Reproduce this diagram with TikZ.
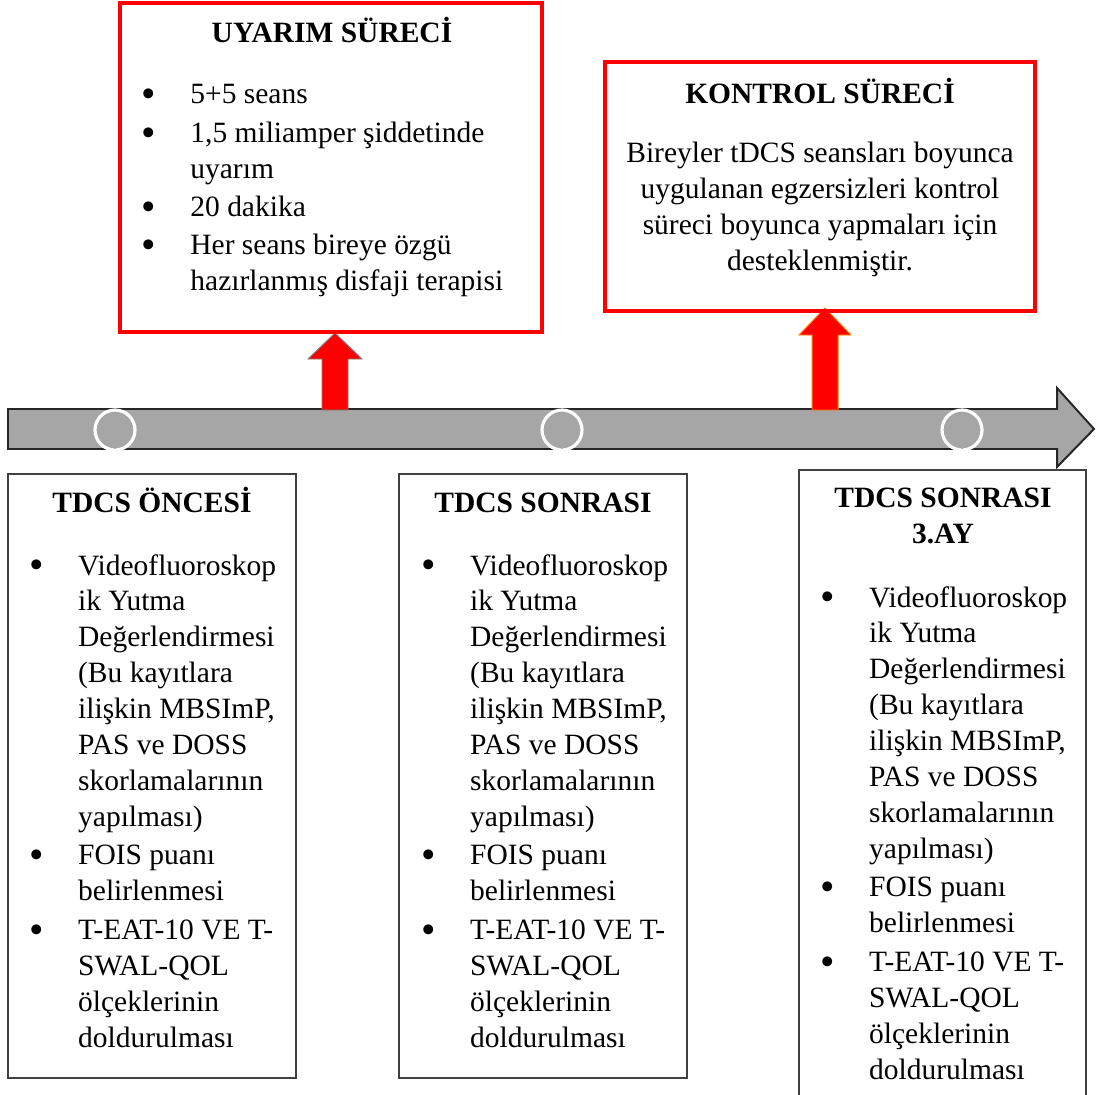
\documentclass[tikz,border=0pt]{standalone}
\usepackage{fontspec}
\setmainfont{Liberation Serif}
\usepackage{array}
\usetikzlibrary{positioning}

\definecolor{barfill}{HTML}{A6A6A6}
\definecolor{boxline}{HTML}{404040}
\newcommand{\blt}{\hspace*{-1pt}\raisebox{-1.5pt}{\scalebox{1.4}{\textbullet}}}

\tikzset{
  redbox/.style={draw=red, line width=2pt},
  greybox/.style={draw=boxline, line width=1pt},
  txt/.style={inner sep=0pt, font=\fontsize{12}{14.6}\selectfont},
  ttl/.style={txt, font=\fontsize{12}{14.3}\selectfont\bfseries, align=center},
  redarrow/.style={fill=red, line width=0.4pt},
  dot/.style={draw=white, line width=1.3pt}
}

\begin{document}
\begin{tikzpicture}[x=0.407pt, y=-0.407pt]
  \useasboundingbox (0,0) rectangle (1098,1094);

  \draw[fill=barfill, draw=black!85, line width=0.8pt]
    (8,409) -- (1057,409) -- (1057,388) -- (1094,429) -- (1057,467)
    -- (1057,449) -- (8,449) -- cycle;
  \foreach \cx/\nm in {115/pre, 562/post, 962/late}
    \draw[dot] (\cx,430) circle (20);

  \draw[redarrow, draw=gray] (322,410) -- (322,359) -- (308,359) -- (335,333)
    -- (362,359) -- (348,359) -- (348,410) -- cycle;
  \draw[redarrow, draw=orange] (812,410) -- (812,335) -- (799,335) -- (825,308)
    -- (851,335) -- (838,335) -- (838,410) -- cycle;

  \draw[redbox] (120,3) rectangle (542,332);
  \draw[redbox] (605,62) rectangle (1035,311);

  \node[ttl, anchor=base] (uyarimttl) at (332,43) {UYARIM SÜRECİ};
  \node[txt, anchor=base west] (uyarimlst) at (143,104) {%
    \begin{tabular}[t]{@{}p{19.1pt}@{}l@{}}
      \blt & 5+5 seans\\[1pt]
      \blt & 1,5 miliamper şiddetinde\\
           & uyarım\\[1pt]
      \blt & 20 dakika\\[1pt]
      \blt & Her seans bireye özgü\\
           & hazırlanmış disfaji terapisi
    \end{tabular}};

  \node[ttl, anchor=base] (kontrolttl) at (820,104) {KONTROL SÜRECİ};
  \node[txt, anchor=base, align=center] (kontroltxt) at (820,270)
    {Bireyler tDCS seansları boyunca\\uygulanan egzersizleri kontrol\\
     süreci boyunca yapmaları için\\desteklenmiştir.};

  \draw[greybox] (8,474) rectangle (296,1078);
  \draw[greybox] (399,474) rectangle (687,1078);
  \draw[greybox] (799,470) rectangle (1086,1110);

  \node[ttl, anchor=base] (prettl) at (152,512) {TDCS ÖNCESİ};
  \node[ttl, anchor=base] (postttl) at (543,512) {TDCS SONRASI};
  \node[ttl, anchor=base] (latettl) at (943,543) {TDCS SONRASI\\3.AY};

  \foreach \nm/\lx/\ly in {prelst/31/575, postlst/423/575, latelst/822/607}
    \node[txt, anchor=base west] (\nm) at (\lx,\ly) {%
      \begin{tabular}[t]{@{}p{19pt}@{}l@{}}
        \blt & Videofluoroskop\\
             & ik Yutma\\
             & Değerlendirmesi\\
             & (Bu kayıtlara\\
             & ilişkin MBSImP,\\
             & PAS ve DOSS\\
             & skorlamalarının\\
             & yapılması)\\[1.2pt]
        \blt & FOIS puanı\\
             & belirlenmesi\\[1.2pt]
        \blt & T-EAT-10 VE T-\\
             & SWAL-QOL\\
             & ölçeklerinin\\
             & doldurulması
      \end{tabular}};
\end{tikzpicture}
\end{document}
